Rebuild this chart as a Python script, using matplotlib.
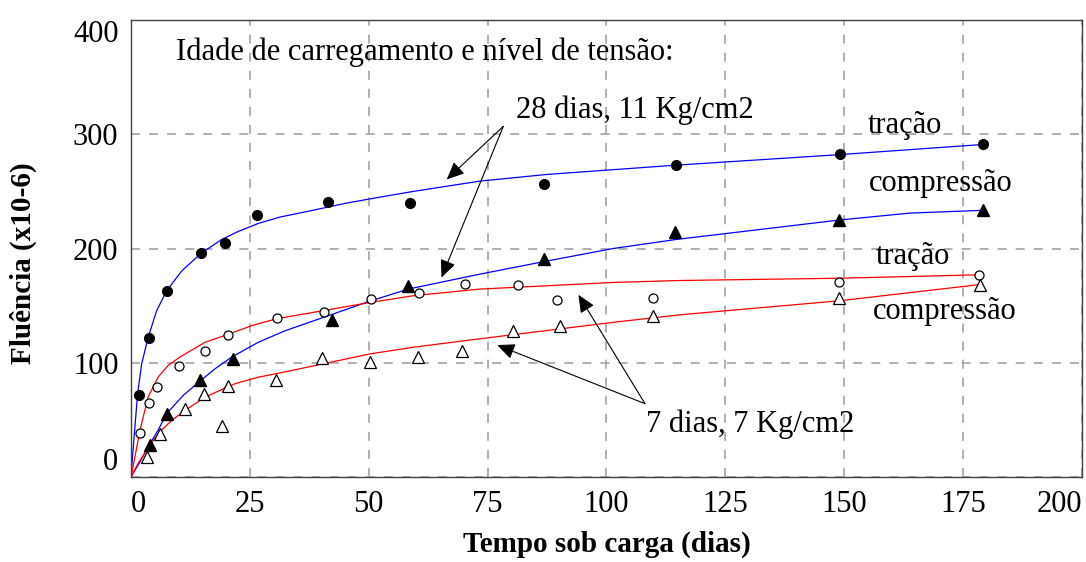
import matplotlib.pyplot as plt

plt.rcParams['font.family'] = ['Liberation Serif', 'DejaVu Serif']

# measured points (t in days, creep x10-6)
t28_trac = [1.6, 3.8, 7.6, 14.7, 19.8, 26.5, 41.5, 58.7, 86.8, 114.6, 149.2, 179.2]
e28_trac = [71.5, 122, 163, 196, 205, 229.5, 241, 240, 256.6, 273, 282.7, 291.5]

t28_comp = [4.0, 7.6, 14.6, 21.5, 42.2, 58.3, 86.9, 114.5, 148.9, 179.2]
e28_comp = [27.9, 55, 84.6, 103.5, 137, 166.8, 190.7, 214.5, 225, 234]

t7_trac = [1.9, 3.7, 5.5, 10.2, 15.6, 20.4, 30.8, 40.5, 50.5, 60.6, 70.2, 81.3, 89.7, 109.8, 148.8, 178.4]
e7_trac = [38.6, 64.8, 78.7, 96.8, 110.7, 124.4, 138.9, 144.7, 156, 160.7, 168.9, 168.3, 155.2, 157, 170.9, 177]

t7_comp = [3.3, 6.1, 11.3, 15.4, 19.2, 20.5, 30.6, 40.2, 50.3, 60.4, 69.6, 80.4, 90.2, 109.7, 148.8, 178.5]
e7_comp = [17.7, 37.5, 59.9, 72.4, 44.5, 79.3, 84.6, 104.4, 101, 104.9, 110.7, 128.2, 131.9, 140.8, 156.7, 168.3]

# fitted curves
c28_trac_t = [0, 0.49, 1.4, 2.25, 3.6, 5.4, 7.5, 10.7, 14.7, 19.1, 22.6, 26.8, 31.3, 38.3,
              45.0, 52.4, 59.4, 73.4, 87.4, 101.4, 114.8, 149.1, 178.9]
c28_trac_e = [0, 26.4, 73, 99, 122, 145.6, 163, 180.5, 195.6, 208, 215, 222, 227.5, 233.5,
              239.5, 245, 250, 259, 264.8, 269, 273, 282.2, 291]

c28_comp_t = [0, 1.9, 3.6, 5.7, 7.5, 11, 14.7, 17.7, 21.2, 26.8, 32.4, 50.3, 58.3, 73.4,
              87.4, 101.4, 114.8, 149.1, 163.8, 178.9]
c28_comp_e = [0, 13.3, 26.4, 41, 55.5, 71.5, 84.6, 94.8, 105, 118, 128, 154, 164.5, 177.6,
              189, 200, 208, 225, 231, 233.4]

c7_trac_t = [0, 0.84, 1.9, 3.6, 5.7, 7.8, 10.3, 15.6, 20.5, 25.4, 30.6, 50.3, 59.4, 73.4,
             87.4, 101.4, 115.5, 149.1, 178.2]
c7_trac_e = [0, 17.7, 41, 70, 87.4, 97.6, 105, 118, 125, 132.5, 138.5, 152.8, 158.7, 164.5,
             167.4, 170.3, 172, 174, 177]

c7_comp_t = [0, 1.5, 3.3, 5.7, 8.6, 11.4, 15.6, 21.9, 26.8, 32.4, 50.3, 59.4, 73.4, 87.4,
             101.4, 115.5, 149.1, 178.2]
c7_comp_e = [0, 12, 23.5, 38, 49.7, 58.4, 70, 81.7, 87.4, 92, 107.8, 113.6, 121, 128.2,
             135.4, 142, 154.3, 168.3]

x_ticks = [0, 25, 50, 75, 100, 125, 150, 175, 200]
y_ticks = [0, 100, 200, 300, 400]

fig = plt.figure(figsize=(10.86, 5.62), dpi=100)
ax = fig.add_axes([0.1206, 0.1512, 0.8757, 0.8132])

ax.plot(c28_trac_t, c28_trac_e, color='#0000ff', lw=0.9, zorder=2)
ax.plot(c28_comp_t, c28_comp_e, color='#0000ff', lw=0.9, zorder=2)
ax.plot(c7_trac_t, c7_trac_e, color='#ff0000', lw=0.9, zorder=2)
ax.plot(c7_comp_t, c7_comp_e, color='#ff0000', lw=0.9, zorder=2)

ax.plot(t28_trac, e28_trac, 'o', ms=7, color='black', zorder=3)
ax.plot(t28_comp, e28_comp, '^', ms=9, color='black', zorder=3)
ax.plot(t7_trac, e7_trac, 'o', ms=6.5, mfc='white', mec='black', mew=0.9, zorder=3)
ax.plot(t7_comp, e7_comp, '^', ms=8.5, mfc='white', mec='black', mew=0.9, zorder=3)

ax.set_xlim(0, 200)
ax.set_ylim(0, 400)
ax.set_xticks(x_ticks)
ax.set_yticks(y_ticks)
ax.tick_params(length=0, labelsize=22, pad=9)
ax.grid(True, color='#aaaaaa', ls=(0, (5, 5)), lw=1.3)
for s in ax.spines.values():
    s.set_color('#404040')
    s.set_linewidth(1.0)

xl = ax.get_xticklabels()
xl[0].set_ha('left')
xl[-1].set_ha('right')
yl = ax.get_yticklabels()
yl[0].set_va('bottom')
yl[-1].set_va('top')

ax.set_xlabel('Tempo sob carga (dias)', fontsize=21, fontweight='bold')
ax.xaxis.set_label_coords(0.5, -0.118)
ax.set_ylabel('Fluência (x10-6)', fontsize=21, fontweight='bold')
ax.yaxis.set_label_coords(-0.099, 0.467)

tfs = 22
ax.text(9.5, 365, 'Idade de carregamento e nível de tensão:', fontsize=tfs, va='baseline')
ax.text(80.9, 314.4, '28 dias, 11 Kg/cm2', fontsize=tfs, va='baseline')
ax.text(108.4, 39.5, '7 dias, 7 Kg/cm2', fontsize=tfs, va='baseline')
ax.text(162.8, 301, 'tração', fontsize=tfs, ha='center', va='baseline')
ax.text(170.2, 250.2, 'compressão', fontsize=tfs, ha='center', va='baseline')
ax.text(164.4, 186.8, 'tração', fontsize=tfs, ha='center', va='baseline')
ax.text(171.1, 138.4, 'compressão', fontsize=tfs, ha='center', va='baseline')

arrow = dict(arrowstyle='-|>,head_length=0.9,head_width=0.4', color='black',
             lw=0.8, mutation_scale=12, shrinkA=0, shrinkB=0)
ax.annotate('', xy=(66.4, 260.4), xytext=(78.3, 306.9), arrowprops=arrow)
ax.annotate('', xy=(65.3, 174.6), xytext=(78.3, 306.9), arrowprops=arrow)
ax.annotate('', xy=(77.0, 115.5), xytext=(108.1, 64.2), arrowprops=arrow)
ax.annotate('', xy=(94.1, 159.5), xytext=(108.1, 64.2), arrowprops=arrow)

fig.savefig('out.png', dpi=100)
